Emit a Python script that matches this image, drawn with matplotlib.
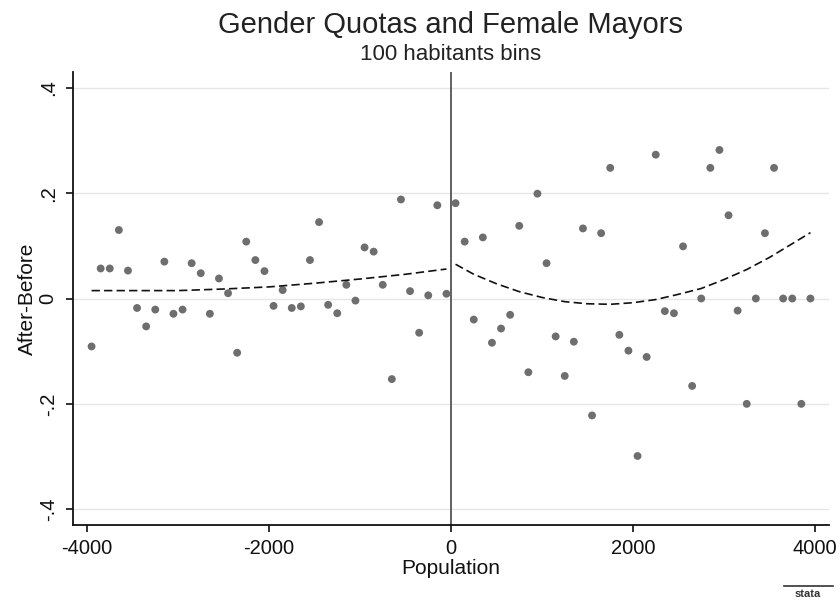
import numpy as np
import matplotlib
matplotlib.use("Agg")
import matplotlib.pyplot as plt

plt.rcParams['font.family'] = ['Liberation Sans', 'DejaVu Sans']

# Bin centres (100-habitant bins) and mean change per bin
bin_centers = np.arange(-3950, 4000, 100)
diff_values = [
    -0.091, 0.057, 0.057, 0.130, 0.053, -0.018, -0.053, -0.021, 0.070, -0.029,
    -0.021, 0.067, 0.048, -0.029, 0.038, 0.010, -0.103, 0.108, 0.073, 0.052,
    -0.014, 0.016, -0.018, -0.015, 0.073, 0.145, -0.012, -0.028, 0.026, -0.004,
    0.097, 0.089, 0.026, -0.153, 0.188, 0.014, -0.065, 0.006, 0.177, 0.009,
    0.181, 0.108, -0.040, 0.116, -0.084, -0.057, -0.031, 0.138, -0.140, 0.199,
    0.067, -0.072, -0.147, -0.082, 0.133, -0.222, 0.124, 0.248, -0.069, -0.099,
    -0.299, -0.111, 0.273, -0.024, -0.028, 0.099, -0.166, 0.000, 0.248, 0.282,
    0.158, -0.023, -0.200, 0.000, 0.124, 0.248, 0.000, 0.000, -0.200, 0.000,
]

# Fitted curves on each side of the threshold
fit_left_x = [-3950, -3000, -2500, -2000, -1500, -1000, -500, -50]
fit_left_y = [0.015, 0.015, 0.018, 0.022, 0.029, 0.037, 0.046, 0.056]
fit_right_x = [50, 250, 500, 750, 1000, 1250, 1500, 1750, 2000, 2250, 2500,
               2750, 3000, 3250, 3500, 3750, 3950]
fit_right_y = [0.065, 0.046, 0.028, 0.013, 0.002, -0.006, -0.010, -0.011,
               -0.008, -0.002, 0.008, 0.019, 0.036, 0.055, 0.078, 0.104, 0.125]

x_ticks = [-4000, -2000, 0, 2000, 4000]
x_tick_labels = ["-4000", "-2000", "0", "2000", "4000"]
y_ticks = [-0.4, -0.2, 0.0, 0.2, 0.4]
y_tick_labels = ["-.4", "-.2", "0", ".2", ".4"]

W, H = 840, 606
fig = plt.figure(figsize=(W / 100, H / 100), dpi=100)
ax_left, ax_top, ax_right, ax_bottom = 73, 72, 829, 525
ax = fig.add_axes([ax_left / W, 1 - ax_bottom / H,
                   (ax_right - ax_left) / W, (ax_bottom - ax_top) / H])

ax.set_xlim(-4154, 4154)
ax.set_ylim(-0.43, 0.43)

for yv in y_ticks:
    ax.axhline(yv, color="#e6e6e6", lw=1.0, zorder=0)

ax.axvline(0, color="#555555", lw=1.3, zorder=1)

ax.scatter(bin_centers, diff_values, s=32, color="#6e6e6e", edgecolor="none",
           zorder=3)

ax.plot(fit_left_x, fit_left_y, color="#111111", lw=1.2, ls=(0, (5, 2.5)), zorder=4)
ax.plot(fit_right_x, fit_right_y, color="#111111", lw=1.2, ls=(0, (5, 2.5)), zorder=4)

ax.spines['top'].set_visible(False)
ax.spines['right'].set_visible(False)
for s in ('left', 'bottom'):
    ax.spines[s].set_linewidth(1.3)
    ax.spines[s].set_color("#111111")

ax.set_xticks(x_ticks)
ax.set_xticklabels(x_tick_labels)
ax.set_yticks(y_ticks)
ax.set_yticklabels(y_tick_labels, rotation=90, va="center")
ax.tick_params(axis="both", direction="out", length=5, width=1.2,
               color="#111111", labelsize=14.5, labelcolor="#111111")
ax.tick_params(axis="x", pad=5)
ax.tick_params(axis="y", pad=6)

ax.set_xlabel("Population", fontsize=15, color="#111111", labelpad=1)
ax.set_ylabel("After-Before", fontsize=15, color="#111111")
ax.yaxis.set_label_coords((37 - ax_left) / (ax_right - ax_left), 0.5)

fig.text(451 / W, 1 - 25 / H, "Gender Quotas and Female Mayors",
         ha="center", va="center", fontsize=21, color="#222222")
fig.text(451 / W, 1 - 55 / H, "100 habitants bins",
         ha="center", va="center", fontsize=16, color="#222222")

# Small wordmark in the lower right corner
fig.text(808 / W, 1 - 594 / H, "stata", ha="center", va="center",
         fontsize=8, fontweight="bold", color="#333333")
fig.add_artist(plt.Line2D([784 / W, 833 / W], [1 - 586 / H, 1 - 586 / H],
                          color="#333333", lw=1.2))

fig.savefig("out.png", dpi=100)
